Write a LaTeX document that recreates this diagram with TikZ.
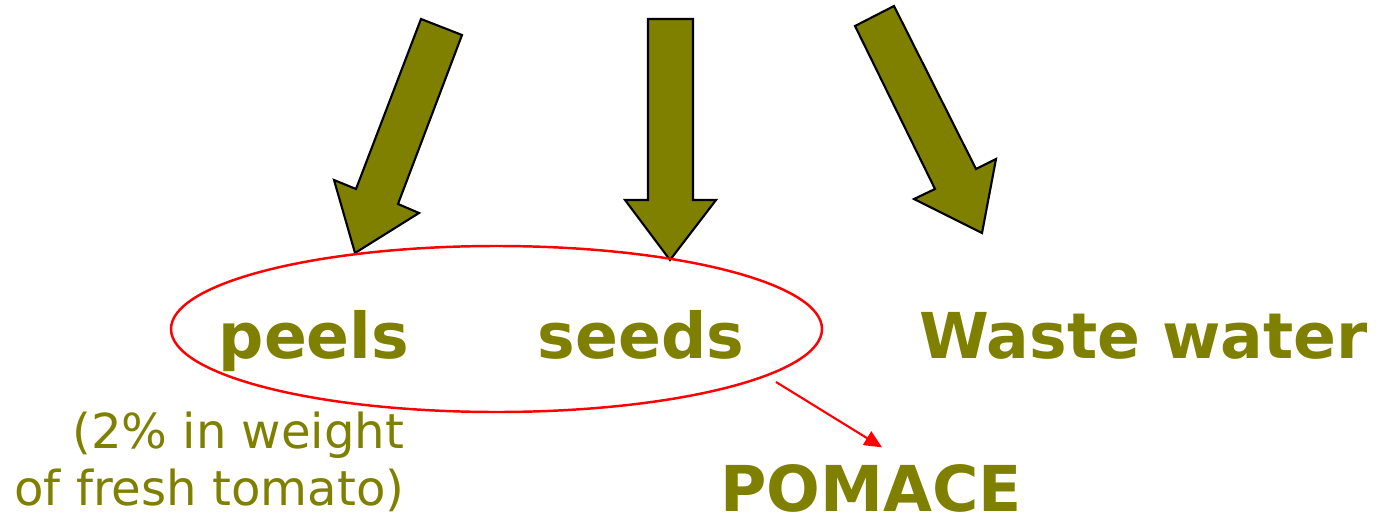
\documentclass[tikz,border=0pt]{standalone}
\usepackage{fontspec}
\setmainfont{DejaVu Sans}
\usepackage{tikz}
\usetikzlibrary{arrows.meta,shapes.geometric}
\usepackage{xcolor}
\definecolor{PomaceOlive}{HTML}{808000}
\definecolor{PomaceRed}{HTML}{FF0000}

\tikzset{
  blockarrow/.style={fill=PomaceOlive,draw=black,line width=0.6pt,line join=miter},
  partlabel/.style={text=PomaceOlive,font=\fontsize{18}{21}\selectfont\bfseries,inner sep=0pt},
  ringline/.style={draw=PomaceRed,line width=0.7pt},
}

\begin{document}
\begin{tikzpicture}[>=Stealth]
  \useasboundingbox (0,0) rectangle (13.78,-5.17);
  \fill[white] (0,0) rectangle (13.78,-5.17);
  \draw[blockarrow] (4.21,-0.19)--(4.62,-0.35)--(3.98,-2.04)--(4.19,-2.13)
    --(3.55,-2.53)--(3.34,-1.80)--(3.56,-1.89)--cycle;
  \draw[blockarrow] (6.48,-0.19)--(6.93,-0.19)--(6.93,-2.00)--(7.16,-2.00)
    --(6.70,-2.60)--(6.25,-2.00)--(6.48,-2.00)--cycle;
  \draw[blockarrow] (8.55,-0.26)--(8.94,-0.06)--(9.76,-1.69)--(9.96,-1.59)
    --(9.82,-2.33)--(9.14,-1.99)--(9.35,-1.89)--cycle;
  \node[ringline,ellipse,inner sep=0pt,minimum width=6.51cm,minimum height=1.66cm]
    (ring) at (4.965,-3.29) {};
  \node[partlabel,anchor=base] (peels) at (3.14,-3.58) {peels};
  \node[partlabel,anchor=base] (seeds) at (6.41,-3.58) {seeds};
  \node[partlabel,anchor=base] (waste) at (11.435,-3.58) {Waste water};
  \node[partlabel,anchor=base] (pomace) at (8.71,-5.11) {POMACE};
  \node[text=PomaceOlive,font=\fontsize{13.7}{16.2}\selectfont,align=right,
    anchor=base east,inner sep=0pt] (share) at (4.05,-5.05)
    {(2\% in weight\\of fresh tomato)};
  \coordinate (ringout) at (7.76,-3.82);
  \draw[PomaceRed,line width=0.6pt,-{Triangle[length=5pt,width=4.5pt]}]
    (ringout)--([xshift=0.11cm,yshift=0.16cm]pomace.north);
\end{tikzpicture}
\end{document}
